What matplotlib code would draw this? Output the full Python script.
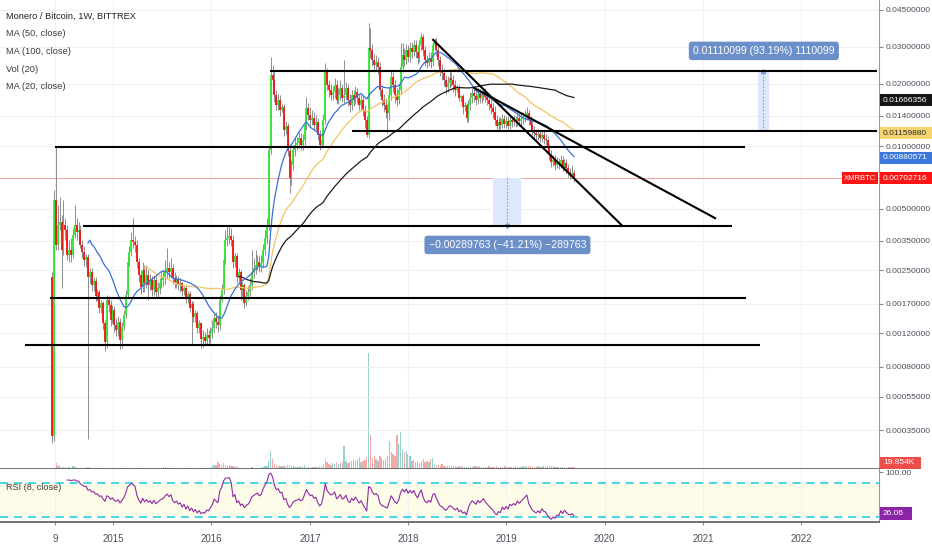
import numpy as np
import pandas as pd
import matplotlib
matplotlib.use("Agg")
import matplotlib.pyplot as plt
import matplotlib.dates as mdates
from matplotlib.patches import Rectangle
from matplotlib.ticker import NullLocator

plt.rcParams['font.family'] = ['Liberation Sans', 'DejaVu Sans']

# XMR/BTC weekly bars (Bittrex), prices in mBTC; each bar opens at the previous close
first_open = 2.32
close_mbtc = [
    0.32, 5.52, 3.33, 4.17, 4.31, 3.15, 4.17, 3.94, 2.97, 3.15,
    2.97, 3.73, 4.17, 3.86, 3.94, 3.33, 3.08, 2.81, 2.92, 2.30,
    2.45, 2.10, 2.22, 1.85, 1.95, 1.62, 1.72, 1.35, 1.08, 1.78,
    1.68, 1.41, 1.58, 1.33, 1.25, 1.38, 1.11, 1.30, 1.49, 1.88,
    2.75, 3.08, 3.52, 3.44, 3.33, 2.75, 2.37, 2.06, 2.51, 2.16,
    2.37, 2.11, 2.24, 1.99, 2.24, 1.94, 2.04, 2.16, 2.24, 2.29,
    2.45, 2.56, 2.45, 2.56, 2.29, 2.19, 2.26, 2.12, 2.16, 1.96,
    2.05, 1.80, 1.90, 1.62, 1.70, 1.45, 1.52, 1.28, 1.35, 1.12,
    1.15, 1.10, 1.18, 1.14, 1.21, 1.28, 1.44, 1.38, 1.33, 1.78,
    1.99, 2.81, 3.52, 3.60, 3.69, 3.52, 2.75, 2.95, 2.30, 2.45,
    1.99, 2.10, 1.72, 1.86, 1.94, 2.11, 2.45, 2.56, 2.65, 2.75,
    2.62, 2.71, 3.15, 3.60, 4.17, 9.62, 22.0, 20.8, 17.7, 15.8,
    16.7, 15.0, 15.4, 12.0, 12.6, 9.50, 7.05, 8.15, 9.62, 10.2,
    10.4, 11.0, 10.2, 10.7, 12.7, 15.3, 14.2, 13.4, 13.7, 12.7,
    13.1, 11.4, 10.2, 10.7, 13.4, 22.8, 19.7, 18.7, 17.7, 18.3,
    19.7, 16.7, 17.7, 19.1, 17.1, 17.7, 19.1, 16.7, 15.8, 17.7,
    16.7, 18.3, 17.1, 15.8, 16.7, 15.0, 13.4, 11.4, 29.6, 29.0,
    26.0, 24.6, 25.4, 24.1, 18.7, 16.7, 15.8, 15.0, 14.5, 17.7,
    21.5, 19.7, 17.7, 16.7, 18.7, 24.1, 27.4, 26.0, 29.0, 26.8,
    29.6, 28.3, 30.6, 28.3, 26.6, 30.6, 33.5, 29.0, 26.0, 25.1,
    26.6, 25.4, 30.6, 31.7, 29.0, 26.0, 23.3, 22.5, 20.8, 19.3,
    20.2, 21.3, 20.8, 19.7, 18.7, 19.2, 17.0, 17.4, 15.5, 15.8,
    13.7, 15.8, 17.1, 18.1, 17.5, 16.7, 17.9, 17.1, 17.7, 18.3,
    17.3, 16.7, 16.0, 15.3, 14.7, 13.4, 12.6, 13.1, 12.7, 13.6,
    12.8, 13.3, 12.6, 13.4, 13.1, 13.4, 13.1, 13.7, 13.3, 13.6,
    13.9, 14.2, 14.5, 13.4, 12.7, 12.0, 11.6, 11.3, 11.5, 11.0,
    11.4, 10.9, 10.7, 9.83, 9.10, 8.41, 8.61, 8.15, 8.41, 8.24,
    8.61, 8.06, 8.33, 7.88, 7.54, 7.37, 7.45, 7.02716,
]
high_mbtc = [
    2.45, 6.17, 9.94, 5.22, 5.70, 4.67, 5.52, 4.52, 4.17, 3.52,
    3.61, 4.03, 5.22, 4.52, 4.31, 4.17, 3.52, 3.29, 3.00, 3.00,
    2.55, 2.55, 2.30, 2.30, 2.02, 2.00, 1.78, 1.76, 1.40, 1.88,
    1.86, 1.78, 1.68, 1.66, 1.44, 1.47, 1.44, 1.38, 1.58, 1.99,
    2.94, 3.29, 3.85, 4.52, 3.69, 3.52, 2.87, 2.51, 2.75, 2.65,
    2.65, 2.51, 2.40, 2.34, 2.37, 2.34, 2.19, 2.29, 2.45, 2.51,
    2.81, 3.22, 2.75, 2.87, 2.68, 2.45, 2.37, 2.34, 2.29, 2.19,
    2.09, 2.10, 1.96, 1.96, 1.76, 1.75, 1.58, 1.56, 1.40, 1.38,
    1.25, 1.22, 1.28, 1.25, 1.30, 1.41, 1.54, 1.54, 1.49, 1.88,
    2.14, 3.01, 3.94, 4.17, 4.17, 4.03, 3.73, 3.05, 3.05, 2.55,
    2.50, 2.18, 2.15, 1.99, 2.09, 2.29, 3.15, 2.87, 3.15, 2.97,
    2.94, 2.97, 3.36, 3.94, 4.52, 10.2, 26.8, 24.6, 22.7, 18.7,
    17.9, 17.7, 16.0, 16.0, 13.2, 13.0, 9.80, 8.61, 10.2, 11.1,
    11.1, 11.7, 11.6, 11.5, 13.7, 17.3, 16.2, 15.5, 15.0, 14.6,
    14.2, 13.7, 12.0, 11.5, 14.3, 25.1, 23.8, 20.8, 19.9, 19.5,
    21.3, 20.8, 19.1, 20.8, 19.9, 26.0, 20.4, 19.9, 17.9, 18.7,
    18.7, 19.5, 19.1, 17.9, 17.7, 17.5, 15.8, 14.0, 39.0, 36.9,
    31.0, 27.7, 27.4, 26.8, 25.4, 19.7, 17.9, 17.1, 16.0, 19.1,
    23.3, 22.7, 20.8, 19.1, 19.9, 31.3, 31.3, 29.6, 31.0, 30.6,
    31.6, 31.6, 32.4, 32.4, 29.9, 32.4, 34.9, 34.6, 30.3, 27.4,
    28.4, 28.4, 31.6, 33.1, 33.1, 30.3, 27.1, 24.9, 23.8, 21.8,
    21.8, 23.3, 22.7, 22.0, 20.8, 19.7, 19.6, 17.7, 17.8, 16.3,
    16.2, 16.7, 18.3, 19.1, 19.1, 18.7, 19.1, 18.9, 18.7, 19.1,
    19.1, 18.3, 17.7, 16.9, 16.2, 15.6, 14.2, 13.9, 13.9, 14.3,
    14.2, 14.0, 14.0, 14.2, 14.0, 14.2, 14.0, 14.5, 14.3, 14.3,
    14.6, 15.0, 15.5, 15.0, 14.0, 13.3, 12.5, 12.1, 12.1, 12.0,
    12.0, 11.9, 11.5, 11.2, 10.3, 9.62, 9.10, 9.10, 8.90, 8.80,
    9.10, 9.00, 8.71, 8.71, 8.24, 7.88, 8.15, 7.71,
]
low_mbtc = [
    0.29, 0.30, 3.15, 3.15, 3.94, 2.04, 2.97, 3.52, 2.81, 2.75,
    2.75, 2.87, 3.61, 3.52, 3.52, 3.22, 2.87, 2.62, 2.60, 0.31,
    2.15, 1.98, 1.98, 1.75, 1.75, 1.52, 1.52, 1.25, 0.97, 1.01,
    1.54, 1.31, 1.35, 1.22, 1.17, 1.17, 0.99, 1.01, 1.25, 1.44,
    1.82, 2.62, 2.94, 3.22, 3.08, 2.56, 2.19, 1.90, 1.94, 1.94,
    2.04, 1.78, 1.99, 1.86, 1.88, 1.82, 1.84, 1.90, 2.04, 2.09,
    2.14, 2.29, 2.29, 2.29, 2.14, 2.04, 2.04, 1.99, 1.94, 1.86,
    1.88, 1.72, 1.72, 1.55, 1.05, 1.38, 1.38, 1.20, 1.20, 1.01,
    1.02, 1.04, 1.05, 1.06, 1.07, 1.14, 1.22, 1.28, 1.22, 1.25,
    1.74, 1.90, 2.68, 3.29, 3.36, 3.29, 2.56, 2.60, 2.15, 2.15,
    1.78, 1.85, 1.62, 1.66, 1.78, 1.86, 1.99, 2.29, 2.40, 2.51,
    2.45, 2.45, 2.56, 2.97, 3.36, 3.94, 9.20, 18.3, 16.3, 15.0,
    15.0, 14.0, 14.6, 11.2, 11.5, 9.00, 5.96, 6.52, 7.71, 9.00,
    9.62, 9.84, 9.62, 9.62, 10.2, 12.0, 13.4, 12.5, 12.7, 12.0,
    12.0, 10.7, 9.62, 9.84, 10.2, 12.8, 18.7, 17.3, 16.7, 16.7,
    17.1, 16.0, 16.0, 16.7, 16.3, 16.2, 16.7, 15.6, 14.6, 15.0,
    15.6, 16.0, 16.2, 15.0, 15.0, 14.0, 12.3, 11.1, 11.0, 26.6,
    24.3, 22.7, 23.3, 22.3, 17.5, 15.6, 14.6, 13.7, 11.6, 13.4,
    16.7, 18.3, 16.2, 15.6, 16.0, 17.9, 22.7, 24.3, 24.9, 25.4,
    25.4, 26.6, 27.1, 26.6, 24.9, 25.4, 29.0, 27.1, 24.3, 23.8,
    24.3, 23.8, 24.3, 29.0, 27.1, 24.3, 21.8, 20.8, 19.5, 17.9,
    18.3, 19.1, 19.5, 18.3, 17.5, 18.2, 16.5, 16.4, 14.3, 14.8,
    13.1, 13.1, 15.0, 16.2, 16.3, 15.8, 16.0, 16.2, 16.2, 16.7,
    16.3, 15.8, 15.0, 14.3, 13.7, 12.7, 12.0, 12.0, 12.1, 12.3,
    12.3, 12.3, 12.1, 12.1, 12.4, 12.5, 12.4, 12.5, 12.5, 12.7,
    12.8, 13.1, 13.4, 12.7, 12.0, 11.4, 11.0, 10.6, 10.7, 10.5,
    10.5, 10.3, 10.2, 9.30, 8.61, 7.97, 8.06, 7.71, 7.88, 7.80,
    7.88, 7.62, 7.71, 7.45, 7.13, 6.98, 7.05, 6.75,
]
# weekly volume, thousands
vol_k = [
    10, 15, 70, 40, 45, 25, 25, 20, 15, 25,
    15, 30, 35, 25, 15, 12, 10, 10, 12, 20,
    10, 8, 8, 10, 6, 8, 10, 8, 12, 10,
    8, 6, 8, 6, 5, 6, 8, 6, 8, 12,
    15, 10, 12, 8, 8, 10, 8, 6, 8, 6,
    5, 6, 5, 6, 8, 5, 6, 8, 10, 25,
    20, 15, 10, 8, 6, 6, 8, 6, 5, 6,
    8, 6, 8, 10, 12, 8, 6, 8, 6, 8,
    6, 10, 12, 15, 20, 30, 45, 50, 80, 60,
    45, 70, 50, 40, 45, 35, 30, 25, 40, 20,
    15, 12, 10, 10, 12, 15, 20, 15, 12, 15,
    12, 15, 20, 30, 40, 90, 215, 120, 60, 45,
    35, 40, 30, 35, 40, 45, 50, 35, 30, 25,
    20, 25, 30, 40, 45, 25, 20, 15, 20, 25,
    20, 25, 35, 30, 60, 120, 80, 60, 50, 70,
    55, 80, 60, 70, 85, 280, 100, 70, 80, 90,
    110, 95, 120, 145, 80, 90, 110, 140, 1390, 410,
    130, 150, 120, 100, 160, 130, 110, 120, 150, 340,
    200, 180, 160, 410, 300, 445, 240, 200, 220, 180,
    150, 90, 110, 80, 100, 70, 90, 120, 80, 100,
    80, 120, 130, 60, 50, 45, 40, 60, 35, 40,
    30, 45, 35, 30, 40, 25, 30, 25, 30, 20,
    25, 20, 30, 25, 35, 40, 25, 30, 20, 25,
    20, 25, 30, 20, 25, 20, 30, 25, 20, 25,
    30, 40, 25, 20, 25, 20, 30, 25, 20, 25,
    30, 25, 40, 35, 30, 25, 20, 25, 30, 20,
    25, 30, 35, 40, 30, 35, 30, 25, 20, 25,
    20, 25, 20, 15, 20, 25, 18, 19.854,
]

price_ticks = [0.045, 0.03, 0.02, 0.014, 0.01, 0.005, 0.0035, 0.0025,
               0.0017, 0.0012, 0.0008, 0.00055, 0.00035]
time_ticks = ["2014-05-29", "2015-01-01", "2016-01-01", "2017-01-01", "2018-01-01",
              "2019-01-01", "2020-01-01", "2021-01-01", "2022-01-01"]
time_labels = ["9", "2015", "2016", "2017", "2018", "2019", "2020", "2021", "2022"]

# hand-drawn levels: price, start, end
levels = [
    (0.0230, "2016-08-06", "2022-10-09"),
    (0.0119, "2017-06-08", "2022-10-09"),
    (0.00994, "2014-05-30", "2021-06-07"),
    (0.00413, "2014-09-11", "2021-04-19"),
    (0.00182, "2014-05-12", "2021-06-10"),
    (0.00104, "2014-02-08", "2021-08-01"),
]
trend_lines = [
    (("2018-04-04", 0.0324), ("2020-03-07", 0.00413)),
    (("2018-09-03", 0.0191), ("2021-02-15", 0.0045)),
]
# price range measurements: from, to, start price, end price, label, label position
measures = [
    ("2021-07-24", "2021-09-03", 0.011912, 0.023013,
     "0.01110099 (93.19%) 1110099", ("2021-08-15", 0.0287)),
    ("2018-11-12", "2019-02-24", 0.00702716, 0.00412953,
     "\u22120.00289763 (\u221241.21%) \u2212289763", ("2019-01-05", 0.00333)),
]
ma100_last, ma50_last, ma20_last = 0.01666356, 0.01159880, 0.00880571
rsi_last = 26.06

W, H = 932, 550
OFF = 1e-4


def fwd(p):
    return np.log10(np.maximum(np.asarray(p) + OFF, 1e-12))


def inv(v):
    return 10 ** np.asarray(v) - OFF


def d(s):
    return mdates.date2num(pd.Timestamp(s))


def box(x0, y0, x1, y1):
    return [x0 / W, 1 - y1 / H, (x1 - x0) / W, (y1 - y0) / H]


close = np.array(close_mbtc) / 1000
high = np.array(high_mbtc) / 1000
low = np.array(low_mbtc) / 1000
opn = np.r_[first_open / 1000, close[:-1]]
vol = np.array(vol_k)
dates = pd.date_range("2014-05-19", periods=len(close), freq="7D")
x = mdates.date2num(dates.to_pydatetime())
up = close >= opn

s = pd.Series(close)
ma20 = s.rolling(20).mean()
ma50 = s.rolling(50).mean()
ma100 = s.rolling(100).mean()
delta = s.diff()
gain = delta.clip(lower=0).ewm(alpha=1 / 8, adjust=False).mean()
loss = (-delta.clip(upper=0)).ewm(alpha=1 / 8, adjust=False).mean()
rsi = 100 - 100 / (1 + gain / loss)
rsi[:8] = np.nan

fig = plt.figure(figsize=(W / 100, H / 100), dpi=100)
fig.patch.set_facecolor("white")
ax = fig.add_axes(box(0, 0, 879, 469))
ax_vol = fig.add_axes(box(0, 0, 879, 469), sharex=ax)
ax_rsi = fig.add_axes(box(0, 469, 879, 522.3), sharex=ax)
ax_vol.set_zorder(0)
ax.set_zorder(1)
ax_rsi.set_zorder(1)
ax.patch.set_visible(False)
ax_vol.axis("off")

ax.set_yscale("function", functions=(fwd, inv))
ax.set_xlim(d("2013-11-06"), d("2022-10-17"))
ax.set_ylim(0.000194, 0.0502)

# volume
ax_vol.bar(x, vol, width=5, color=np.where(up, "#95d3cc", "#f6aaa8"), linewidth=0)
ax_vol.set_ylim(0, vol.max() * 469 / 116)

# grid and price scale
ax.set_yticks(price_ticks)
ax.set_yticklabels([f"{t:.8f}" for t in price_ticks])
ax.yaxis.set_minor_locator(NullLocator())
ax.yaxis.tick_right()
ax.tick_params(axis="y", length=3, color="#8a8a8a", labelsize=6.0, labelcolor="#4a4f5a", pad=1.5)
ax.tick_params(axis="x", length=0, labelbottom=False)
ax.grid(axis="y", color="#eef0f4", lw=0.8, zorder=0)
ax.grid(axis="x", color="#f1f2f5", lw=0.8, zorder=0)
ax.set_axisbelow(True)

# last price line
ax.axhline(close[-1], color="#f3a1a1", lw=0.7, zorder=1)

# candles
ax.vlines(x, low, high, color="#7c7c7c", lw=0.6, zorder=2)
ax.vlines(x[up], opn[up], close[up], color="#30e830", lw=1.3, zorder=3)
ax.vlines(x[~up], opn[~up], close[~up], color="#f01212", lw=1.3, zorder=3)

# moving averages
ax.plot(x, ma50, color="#f4c463", lw=0.9, zorder=4)
ax.plot(x, ma100, color="#1c1c1c", lw=0.9, zorder=4)
ax.plot(x, ma20, color="#3a70d6", lw=0.9, zorder=4)

# drawings
for p, t0, t1 in levels:
    ax.plot([d(t0), d(t1)], [p, p], color="black", lw=1.5, zorder=6, solid_capstyle="butt")
for (t0, p0), (t1, p1) in trend_lines:
    ax.plot([d(t0), d(t1)], [p0, p1], color="black", lw=1.5, zorder=6)

for t0, t1, p0, p1, text, (tl, pl) in measures:
    ax.fill_between([d(t0), d(t1)], p0, p1, color="#dde9fa", lw=0, zorder=1)
    tc = (d(t0) + d(t1)) / 2
    ax.plot([tc, tc], [p0, p1], ls=(0, (1.5, 1.5)), color="#7fa3d9", lw=0.8, zorder=1.5)
    ax.plot(tc, p1, marker="^" if p1 > p0 else "v", ms=3, color="#7fa3d9", zorder=1.5)
    ax.text(d(tl), pl, text, ha="center", va="center", color="white", fontsize=7.6, zorder=7,
            bbox=dict(boxstyle="round,pad=0.4,rounding_size=0.3", fc="#6b8fc8", ec="none"))

for side in ["top", "left"]:
    ax.spines[side].set_visible(False)
    ax_rsi.spines[side].set_visible(False)
ax.spines["bottom"].set_color("#5a5a5a")
ax.spines["bottom"].set_linewidth(1.2)
ax.spines["right"].set_color("#9a9a9a")
ax.spines["right"].set_linewidth(0.8)

# RSI pane
ax_rsi.set_ylim(9.9, 105.7)
ax_rsi.axhspan(20, 80, color="#fdfce9", lw=0, zorder=0)
for lvl in (80, 20):
    ax_rsi.axhline(lvl, color="#38d3e3", lw=1.3, ls=(0, (4.5, 3.2)), zorder=1)
ax_rsi.plot(x, rsi, color="#8f2ba3", lw=0.8, zorder=3)
ax_rsi.yaxis.tick_right()
ax_rsi.set_yticks([100])
ax_rsi.set_yticklabels(["100.00"])
ax_rsi.tick_params(axis="y", length=3, color="#8a8a8a", labelsize=6.0, labelcolor="#4a4f5a", pad=1.5)
ax_rsi.set_xticks([d(t) for t in time_ticks])
ax_rsi.set_xticklabels(time_labels)
ax_rsi.tick_params(axis="x", length=2.5, color="#8a8a8a", labelsize=7, labelcolor="#4a4f5a", pad=6)
ax_rsi.grid(axis="x", color="#f1f2f5", lw=0.8, zorder=0)
ax_rsi.set_axisbelow(True)
ax_rsi.spines["bottom"].set_color("#5a5a5a")
ax_rsi.spines["bottom"].set_linewidth(1.2)
ax_rsi.spines["right"].set_color("#9a9a9a")
ax_rsi.spines["right"].set_linewidth(0.8)


def y_px(axis, value):
    return H - axis.transData.transform((0, value))[1]


def tag(yp, text, bg, fg="white", x0=880, x1=932, h=12, size=6.0, center=False):
    fig.add_artist(Rectangle((x0 / W, 1 - (yp + h / 2) / H), (x1 - x0) / W, h / H,
                             transform=fig.transFigure, facecolor=bg, edgecolor="none", zorder=5))
    tx = (x0 + x1) / 2 if center else x0 + 3
    fig.text(tx / W, 1 - yp / H, text, color=fg, fontsize=size,
             va="center", ha="center" if center else "left", zorder=6)


tag(y_px(ax, ma100_last), f"{ma100_last:.8f}", "#141414")
tag(y_px(ax, ma50_last), f"{ma50_last:.8f}", "#f6d470", fg="#2a2a2a")
tag(y_px(ax, ma20_last), f"{ma20_last:.8f}", "#3b78db")
tag(y_px(ax, close[-1]), f"{close[-1]:.8f}", "#ff1414")
tag(y_px(ax, close[-1]), "XMRBTC", "#ff1414", x0=842, x1=878, size=5.5, center=True)
tag(463, f"{vol[-1]:.3f}K", "#ee4d4a", x1=921)
tag(y_px(ax_rsi, rsi_last), f"{rsi_last:.2f}", "#8c24a8", x1=912, h=13)

# legend
legend = ["Monero / Bitcoin, 1W, BITTREX", "MA (50, close)", "MA (100, close)",
          "Vol (20)", "MA (20, close)"]
for k, (txt, yy) in enumerate(zip(legend, [16.7, 34, 52, 69, 86.7])):
    fig.text(6 / W, 1 - yy / H, txt, fontsize=6.7, va="center", ha="left",
             color="#222222" if k == 0 else "#3c3c3c")
fig.text(6 / W, 1 - 487 / H, "RSI (8, close)", fontsize=6.6, va="center", ha="left", color="#3c3c3c")

fig.savefig("out.png", dpi=100)
